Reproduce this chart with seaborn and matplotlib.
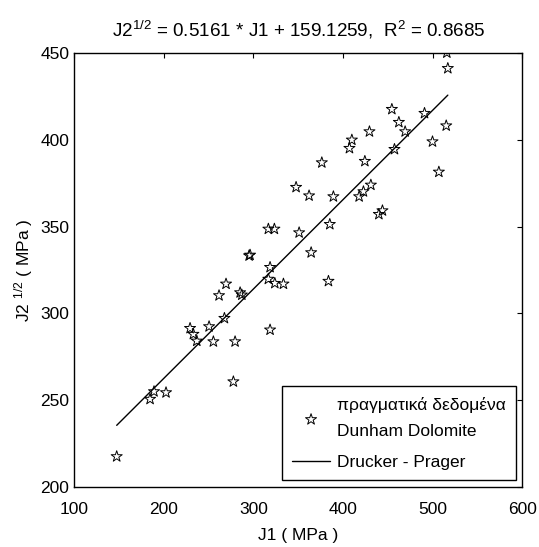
import numpy as np
import pandas as pd
import seaborn as sns
import matplotlib
matplotlib.use('Agg')
import matplotlib.pyplot as plt

j1 = [147.6, 184.8, 189.2, 202.6, 277.7, 229.4, 233.1, 236.9, 250.6, 255.4,
      279.6, 318.6, 267.7, 261.7, 285.2, 287.1, 269.5, 316.7, 323.9, 333.5,
      383.7, 318.6, 295.2, 296.3, 364.4, 316.7, 323.4, 351.0, 385.2, 362.1,
      389.2, 347.6, 376.3, 417.9, 422.7, 431.0, 439.9, 443.9, 424.3, 407.1,
      409.8, 429.4, 457.3, 462.2, 469.2, 454.4, 490.8, 499.7, 506.8, 515.0,
      516.8, 515.7]
sqrt_j2 = [217.3, 250.4, 254.8, 254.2, 260.5, 291.3, 287.9, 284.0, 292.3, 283.6,
           283.6, 290.4, 297.1, 310.2, 311.9, 310.6, 316.9, 319.7, 317.3, 316.9,
           318.5, 326.5, 333.2, 333.6, 335.0, 348.6, 348.6, 346.5, 351.3, 367.8,
           367.3, 372.7, 386.9, 367.3, 370.2, 374.0, 357.1, 359.2, 387.7, 395.2,
           400.0, 404.8, 394.6, 410.2, 404.8, 417.7, 415.4, 399.0, 381.5, 408.2,
           441.3, 450.3]

# Drucker-Prager fit from the title
slope = 0.5161
intercept = 159.1259
r2 = 0.8685

x_ticks = [100, 200, 300, 400, 500, 600]
y_ticks = [200, 250, 300, 350, 400, 450]

sns.set_style('white')
plt.rcParams['font.family'] = ['Liberation Sans', 'DejaVu Sans']
plt.rcParams['mathtext.fontset'] = 'custom'
plt.rcParams['mathtext.rm'] = 'Liberation Sans'
plt.rcParams['mathtext.it'] = 'Liberation Sans:italic'
plt.rcParams['mathtext.bf'] = 'Liberation Sans:bold'
plt.rcParams['text.color'] = 'black'
plt.rcParams['axes.labelcolor'] = 'black'

df = pd.DataFrame({'J1': j1, 'J2': sqrt_j2})
fit_x = np.array([min(j1), max(j1)])
fit = pd.DataFrame({'J1': fit_x, 'J2': slope * fit_x + intercept})

fig = plt.figure(figsize=(5.39, 5.47), dpi=100)
ax = fig.add_axes([0.1373, 0.1106, 0.832, 0.7920])

sns.scatterplot(data=df, x='J1', y='J2', ax=ax, marker='*', s=70,
                facecolor='none', edgecolor='black', linewidth=0.7,
                label='πραγματικά δεδομένα\nDunham Dolomite')
sns.lineplot(data=fit, x='J1', y='J2', ax=ax, color='black', linewidth=1.0,
             label='Drucker - Prager')

ax.set_xlim(100, 600)
ax.set_ylim(200, 450)
ax.set_xticks(x_ticks)
ax.set_yticks(y_ticks)
ax.tick_params(direction='in', top=True, right=True, length=3.5, width=0.8,
               labelsize=12.5, colors='black')
ax.tick_params(axis='x', pad=11)
for sp in ax.spines.values():
    sp.set_color('black')
    sp.set_linewidth(1.0)

ax.set_title(r'J2$^{1/2}$ = 0.5161 * J1 + 159.1259,  R$^{2}$ = ' + f'{r2:.4f}',
             fontsize=13.6, pad=12)
ax.set_xlabel('J1 ( MPa )', fontsize=12.5, labelpad=8)
ax.set_ylabel(r'J2 $^{1/2}$ ( MPa )', fontsize=12.5, labelpad=4)

leg = ax.legend(loc='lower right', fontsize=12.5, frameon=True, fancybox=False,
                framealpha=1, edgecolor='black', borderaxespad=0.35,
                borderpad=0.6, handlelength=2.2, handletextpad=0.4,
                labelspacing=0.9)
leg.get_frame().set_linewidth(1.0)
for t in leg.get_texts():
    t.set_linespacing(1.95)

plt.savefig('out.png', dpi=100)
